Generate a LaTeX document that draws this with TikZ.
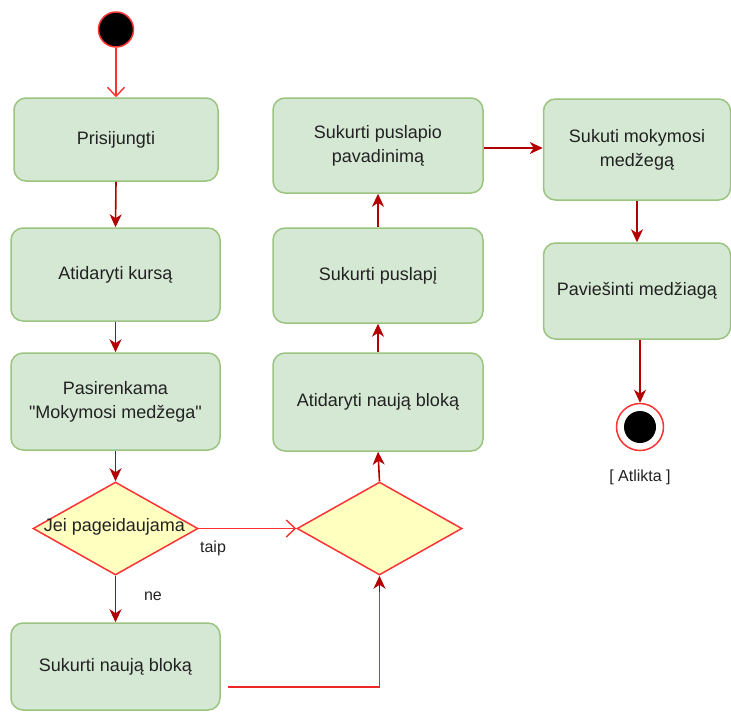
\documentclass[tikz,border=0pt]{standalone}
\usepackage{fontspec}
\setmainfont{Liberation Sans}[Ligatures=TeXOff]
\usetikzlibrary{arrows.meta,shapes.geometric}

\definecolor{actfill}{HTML}{D5E8D4}
\definecolor{actdraw}{HTML}{9AC47F}
\definecolor{decfill}{HTML}{FFFFC0}
\definecolor{decdraw}{HTML}{FF3333}
\definecolor{flow}{HTML}{B20000}
\definecolor{openflow}{HTML}{FF3030}
\definecolor{txt}{HTML}{222222}

\tikzset{
  act/.style={draw=actdraw, fill=actfill, line width=1.5pt, rounded corners=12pt,
    align=center, text=txt, inner sep=0pt, font=\fontsize{18}{24}\selectfont},
  decision/.style={diamond, draw=decdraw, fill=decfill, line width=1.5pt, inner sep=0pt,
    minimum width=165pt, minimum height=93pt},
  lbl/.style={text=txt, inner sep=0pt, font=\fontsize{16}{19}\selectfont},
  flowarrow/.style={draw=flow, line width=1.6pt, -{Stealth[length=13pt,width=12pt,inset=4pt]}},
  openarrow/.style={draw=openflow, line width=1.4pt, -{Straight Barb[length=9pt,width=17pt]}},
  flowline/.style={draw=openflow!80!flow, line width=1.6pt},
}

\begin{document}
\begin{tikzpicture}[x=1pt, y=-1pt]
  \useasboundingbox (0,0) rectangle (731,713);

  % initial and final states
  \node[circle, draw=decdraw, fill=black, line width=1.5pt, minimum size=35pt, inner sep=0pt] (start) at (116,29.5) {};
  \node[circle, draw=decdraw, fill=white, line width=1.5pt, minimum size=47pt, inner sep=0pt] (end) at (640,427) {};
  \node[circle, fill=black, minimum size=32pt, inner sep=0pt] (endcore) at (end) {};

  % left column
  \node[act, minimum width=204pt, minimum height=83pt] (b1) at (116,139.5) {Prisijungti};
  \node[act, minimum width=209pt, minimum height=93pt] (b2) at (115.5,274.5) {Atidaryti kursą};
  \node[act, minimum width=209pt, minimum height=97pt] (b3) at (115.5,401.5) {Pasirenkama\\"Mokymosi medžega"};
  \node[decision] (d1) at (115.5,528.5) {};
  \node[text=txt, inner sep=0pt, font=\fontsize{18}{24}\selectfont] (d1txt) at (114.5,527) {Jei pageidaujama};
  \node[act, minimum width=209pt, minimum height=87pt] (b4) at (115.5,666.5) {Sukurti naują bloką};

  % middle column
  \node[decision] (d2) at (379.5,528.5) {};
  \node[act, minimum width=210pt, minimum height=98pt] (b5) at (378,402) {Atidaryti naują bloką};
  \node[act, minimum width=210pt, minimum height=95pt] (b6) at (378,275.5) {Sukurti puslapį};
  \node[act, minimum width=210pt, minimum height=95pt] (b7) at (378,145.5) {Sukurti puslapio\\pavadinimą};

  % right column
  \node[act, minimum width=187pt, minimum height=101pt] (b8) at (637,149.5) {Sukuti mokymosi\\medžegą};
  \node[act, minimum width=187pt, minimum height=96pt] (b9) at (637,291) {Paviešinti medžiagą};

  % guard labels
  \node[lbl] (taip) at (213,548) {taip};
  \node[lbl] (ne) at (153,596) {ne};
  \node[lbl] (done) at (640,477) {[ Atlikta ]};

  % connectors
  \draw[openarrow] (start.south) -- (b1.north);
  \draw[flowarrow] (b1.south) -- (b2.north);
  \draw[flowarrow] (b2.south) -- (b3.north);
  \draw[flowarrow] (b3.south) -- (d1.north);
  \draw[openarrow] (d1.east) -- (d2.west);
  \draw[flowarrow] (d1.south) -- (b4.north);
  \coordinate (b4out) at (228,687);
  \draw[flowline] (b4out) -- (d2.south |- b4out) -- ([yshift=-16pt]d2.south);
  \draw[flowarrow] ([yshift=-16pt]d2.south) -- (d2.south);
  \draw[flowarrow] (d2.north) -- (b5.south);
  \draw[flowarrow] (b5.north) -- (b6.south);
  \draw[flowarrow] (b6.north) -- (b7.south);
  \draw[flowarrow] ([yshift=-2.5pt]b7.east) -- ([yshift=-2.5pt]b8.west |- b7.east);
  \draw[flowarrow] (b8.south) -- (b9.north);
  \draw[flowarrow] (b9.south -| end) -- (end.north);
\end{tikzpicture}
\end{document}
